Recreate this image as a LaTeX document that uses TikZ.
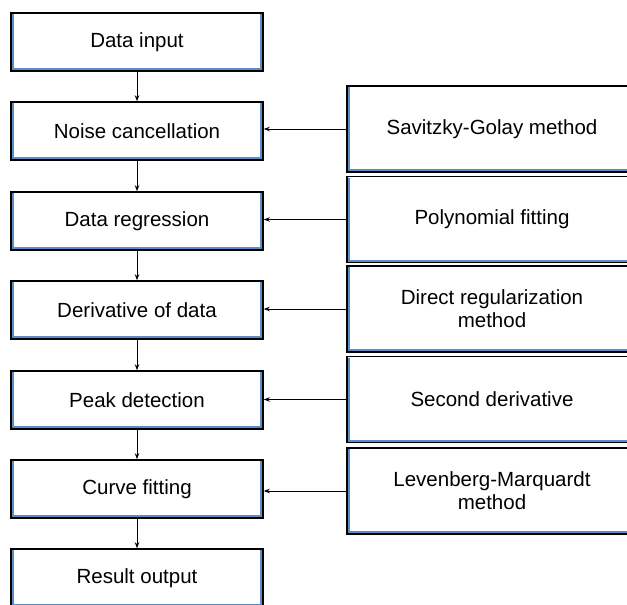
\documentclass[tikz,border=0pt]{standalone}
\usepackage{fontspec}
\setmainfont{Liberation Sans}
\usetikzlibrary{arrows.meta}
\definecolor{boxblue}{HTML}{5A8DC6}
\tikzset{
  x=1pt, y=1pt,
  flowbox/.style={draw=black, line width=1.6pt, fill=white, inner sep=0pt,
    minimum width=252pt, minimum height=58pt, align=center,
    font=\fontsize{20.5}{23}\selectfont},
  sidebox/.style={draw=black, line width=1.6pt, fill=white, inner sep=0pt,
    minimum width=290pt, minimum height=86pt, align=center,
    font=\fontsize{20.5}{23}\selectfont},
  innerline/.style={draw=boxblue, line width=2.2pt},
  conn/.style={draw=black, line width=0.9pt, -{Stealth[length=6pt,width=4.5pt]}}
}
\begin{document}
\begin{tikzpicture}
\useasboundingbox (0,0) rectangle (627,-605);
\clip (0,0) rectangle (627,-605);
% left column
\node[flowbox] (a1) at (137,-42) {Data input};
\node[flowbox] (a2) at (137,-131) {Noise cancellation};
\node[flowbox] (a3) at (137,-221) {Data regression};
\node[flowbox] (a4) at (137,-310) {Derivative of data};
\node[flowbox] (a5) at (137,-400) {Peak detection};
\node[flowbox] (a6) at (137,-489) {Curve fitting};
\node[flowbox] (a7) at (137,-578) {Result output};
% right column
\node[sidebox] (b1) at (492,-129) {Savitzky-Golay method};
\node[sidebox] (b2) at (492,-219.5) {Polynomial fitting};
\node[sidebox] (b3) at (492,-309) {Direct regularization\\method};
\node[sidebox] (b4) at (492,-399.5) {Second derivative};
\node[sidebox] (b5) at (492,-491) {Levenberg-Marquardt\\method};
% blue inner edges
\foreach \n in {a1,a2,a3,a4,a5,a6,a7,b1,b2,b3,b4,b5}{
  \draw[innerline] ([shift={(2.6pt,-2pt)}]\n.north west) -- ([shift={(2.6pt,2.6pt)}]\n.south west)
    -- ([shift={(-2.6pt,2.6pt)}]\n.south east) -- ([shift={(-2.6pt,-2pt)}]\n.north east);
}
% vertical connectors
\foreach \u/\v in {a1/a2,a2/a3,a3/a4,a4/a5,a5/a6,a6/a7}{
  \draw[conn] (\u.south) -- (\v.north);
}
% horizontal connectors
\foreach \u/\v in {b1/a2,b2/a3,b3/a4,b4/a5,b5/a6}{
  \draw[conn] (\u.west) -- (\u.west -| \v.east);
}
\end{tikzpicture}
\end{document}
